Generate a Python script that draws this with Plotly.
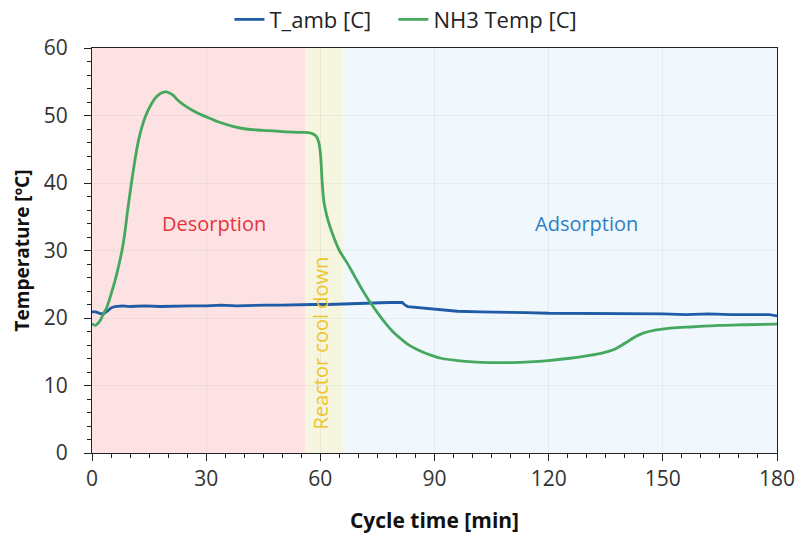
import plotly.graph_objects as go

# Cycle time [min] and temperatures [C]
t_amb_time = [0, 1, 2, 3, 4, 5, 6, 8, 10, 14, 18, 22, 26, 30, 34, 38, 42, 46, 50,
              54, 58, 62, 66, 70, 74, 78, 81.5, 82.3, 83, 85, 88, 92, 96, 102, 108,
              114, 120, 126, 132, 138, 144, 150, 156, 162, 168, 174, 178, 180]
t_amb = [20.9, 20.9, 20.7, 20.6, 21.0, 21.5, 21.7, 21.8, 21.7, 21.8, 21.7, 21.8, 21.8, 21.8,
         21.9, 21.8, 21.9, 21.9, 21.9, 22.0, 22.0, 22.0, 22.1, 22.1, 22.2, 22.3, 22.3, 21.9,
         21.7, 21.6, 21.4, 21.2, 21.0, 20.9, 20.9, 20.8, 20.7, 20.7, 20.6, 20.6, 20.6, 20.6,
         20.5, 20.6, 20.5, 20.5, 20.5, 20.3]

nh3_time = [0, 0.8, 2, 3, 3.9, 5, 6.5, 8.2, 9.5, 10.9, 12.3, 14, 15.5, 17, 18.5, 19.5,
            20.5, 21.5, 22.5, 24, 26, 28, 30, 33.5, 37, 40.5, 45, 50, 55, 57.5, 58.8,
            59.5, 60, 60.5, 61, 62, 63.5, 65, 67, 69, 71, 73, 75, 77, 79, 81, 83, 86,
            89, 92, 96, 100, 105, 110, 115, 120, 125, 130, 134, 137, 139, 141, 143, 145,
            148, 152, 158, 165, 172, 180]
nh3_temp = [19.2, 18.9, 19.5, 20.6, 21.6, 23.5, 26.5, 31.0, 36.5, 42.0, 46.5, 49.8, 51.6,
            52.8, 53.4, 53.5, 53.3, 52.9, 52.3, 51.6, 50.9, 50.3, 49.8, 49.0, 48.4, 48.0,
            47.8, 47.6, 47.5, 47.4, 47.0, 46.2, 44.5, 40.0, 37.0, 34.5, 32.0, 30.0, 28.2,
            26.2, 24.2, 22.4, 20.8, 19.3, 18.0, 17.0, 16.1, 15.2, 14.5, 14.0, 13.7, 13.5,
            13.4, 13.4, 13.5, 13.7, 14.0, 14.4, 14.8, 15.3, 15.9, 16.6, 17.3, 17.8, 18.2,
            18.5, 18.7, 18.9, 19.0, 19.1]

# Process phases [start, end] in minutes
phase_names = ["Desorption", "Reactor cool down", "Adsorption"]
phase_start = [0, 56, 66]
phase_end = [56, 66, 180]
phase_fill = ["#fde2e3", "#f6f5df", "#f0f8fd"]
phase_text_color = ["#e8323c", "#ecc52a", "#2f7dc2"]
phase_label_x = [32, 60.3, 130]
phase_label_y = [34, 16.3, 34]
phase_label_angle = [0, -90, 0]

x_ticks = [0, 30, 60, 90, 120, 150, 180]
y_ticks = [0, 10, 20, 30, 40, 50, 60]

FONT = "Open Sans, Segoe UI, sans-serif"
NBSP = "\u00a0"

fig = go.Figure()
fig.add_trace(go.Scatter(x=t_amb_time, y=t_amb, mode="lines", name="T_amb [C]" + NBSP * 3,
                         line=dict(color="#1f5ba6", width=2.8)))
fig.add_trace(go.Scatter(x=nh3_time, y=nh3_temp, mode="lines", name="NH3 Temp [C]",
                         line=dict(color="#45a85e", width=2.8, shape="spline", smoothing=1.0)))

for s, e, c in zip(phase_start, phase_end, phase_fill):
    fig.add_shape(type="rect", xref="x", yref="y", x0=s, x1=e, y0=0, y1=60,
                  fillcolor=c, line_width=0, layer="below")

for name, x, y, col, ang in zip(phase_names, phase_label_x, phase_label_y,
                                phase_text_color, phase_label_angle):
    fig.add_annotation(x=x, y=y, text=name, showarrow=False, textangle=ang,
                       font=dict(family=FONT, size=20, color=col))

axis_common = dict(showline=True, linecolor="#222", linewidth=1.3, mirror=True,
                   ticks="outside", tickcolor="#222", ticklen=7, tickwidth=1.2,
                   showgrid=True, gridcolor="rgba(0,0,0,0.045)", zeroline=False,
                   tickfont=dict(family=FONT, size=21, color="#333"))

fig.update_xaxes(range=[0, 180], tickvals=x_ticks, automargin=False,
                 minor=dict(dtick=5, ticks="outside", ticklen=4, tickcolor="#222", showgrid=False),
                 title=dict(text="<b>Cycle time [min]</b>", standoff=21,
                            font=dict(family=FONT, size=21, color="#111")),
                 **axis_common)
fig.update_yaxes(range=[0, 60], tickvals=y_ticks, automargin=False, ticklabelstandoff=12,
                 minor=dict(dtick=2, ticks="outside", ticklen=4, tickcolor="#222", showgrid=False),
                 title=dict(text="<b>Temperature [ºC]</b>", standoff=8,
                            font=dict(family=FONT, size=19, color="#111")),
                 **axis_common)

# Overlay axes carrying the inner half of the major ticks
fig.update_layout(
    xaxis2=dict(overlaying="x", anchor="y", matches="x", range=[0, 180], tickvals=x_ticks,
                ticks="inside", ticklen=6, tickwidth=1.2, tickcolor="#222",
                showticklabels=False, showgrid=False, showline=False, zeroline=False),
    yaxis2=dict(overlaying="y", anchor="x", matches="y", range=[0, 60], tickvals=y_ticks,
                ticks="inside", ticklen=6, tickwidth=1.2, tickcolor="#222",
                showticklabels=False, showgrid=False, showline=False, zeroline=False),
)

fig.update_layout(
    width=796, height=535,
    margin=dict(l=92, r=19, t=48, b=82, autoexpand=False),
    paper_bgcolor="white", plot_bgcolor="white",
    font=dict(family=FONT, color="#222"),
    showlegend=True,
    legend=dict(orientation="h", xref="container", x=0.51, xanchor="center",
                y=1.07, yanchor="middle",
                font=dict(family=FONT, size=22, color="#222"), itemwidth=30,
                bgcolor="rgba(0,0,0,0)"),
)

fig.write_html("out.html")
